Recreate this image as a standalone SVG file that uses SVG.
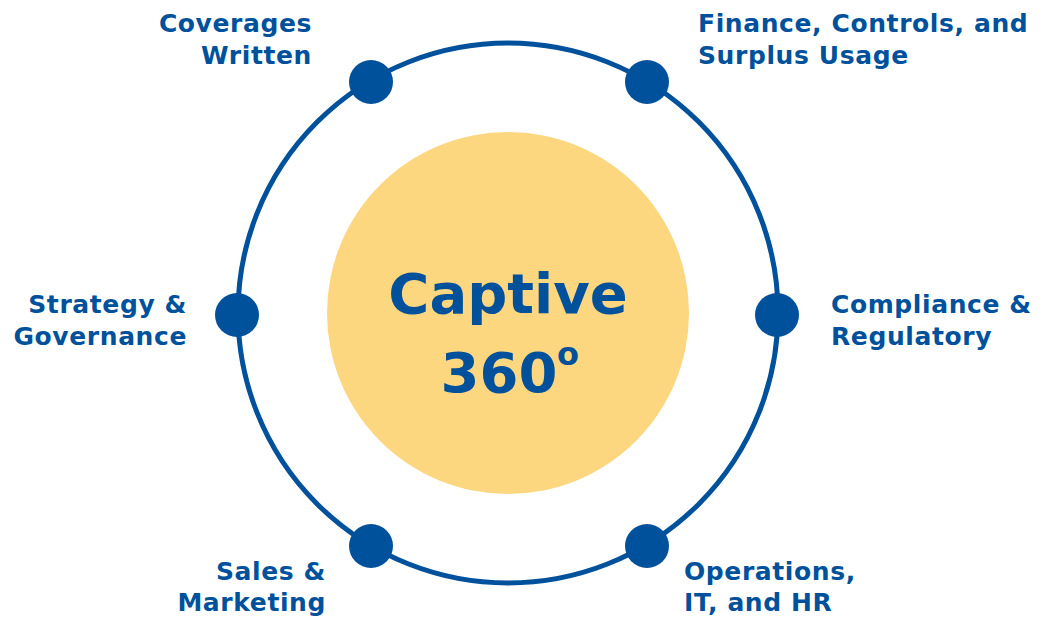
<svg xmlns="http://www.w3.org/2000/svg" width="1040" height="617" viewBox="0 0 1040 617">
<style>
.lbl{font-family:"DejaVu Sans","Verdana",sans-serif;font-weight:bold;font-size:25px;fill:#00519B;letter-spacing:0.6px}
.r{text-anchor:end}
.dot{fill:#00519B}
.big{font-family:"DejaVu Sans","Verdana",sans-serif;font-weight:bold;font-size:56px;fill:#00519B;text-anchor:middle}
</style>
<rect width="1040" height="617" fill="#fff"/>
<g id="connectors">
<circle cx="508" cy="313" r="270" fill="none" stroke="#00519B" stroke-width="5"/>
</g>
<g id="center">
<circle cx="508" cy="313" r="181" fill="#FDD680"/>
<text class="big" x="508" y="313">Captive</text>
<text class="big" x="499" y="392">360</text>
<text class="big" x="568" y="365" style="font-size:32px">o</text>
</g>
<g id="coverages"><circle class="dot" cx="371" cy="82" r="22"/><text class="lbl r" x="312" y="32">Coverages</text><text class="lbl r" x="312" y="64">Written</text></g>
<g id="finance"><circle class="dot" cx="647" cy="82" r="22"/><text class="lbl" x="698" y="32">Finance, Controls, and</text><text class="lbl" x="698" y="64">Surplus Usage</text></g>
<g id="strategy"><circle class="dot" cx="237" cy="315" r="22"/><text class="lbl r" x="187" y="313">Strategy &amp;</text><text class="lbl r" x="187" y="345">Governance</text></g>
<g id="compliance"><circle class="dot" cx="777" cy="315" r="22"/><text class="lbl" x="831" y="313">Compliance &amp;</text><text class="lbl" x="831" y="345">Regulatory</text></g>
<g id="sales"><circle class="dot" cx="371" cy="546" r="22"/><text class="lbl r" x="326" y="580">Sales &amp;</text><text class="lbl r" x="326" y="611">Marketing</text></g>
<g id="operations"><circle class="dot" cx="647" cy="546" r="22"/><text class="lbl" x="684" y="580">Operations,</text><text class="lbl" x="684" y="611">IT, and HR</text></g>
</svg>
